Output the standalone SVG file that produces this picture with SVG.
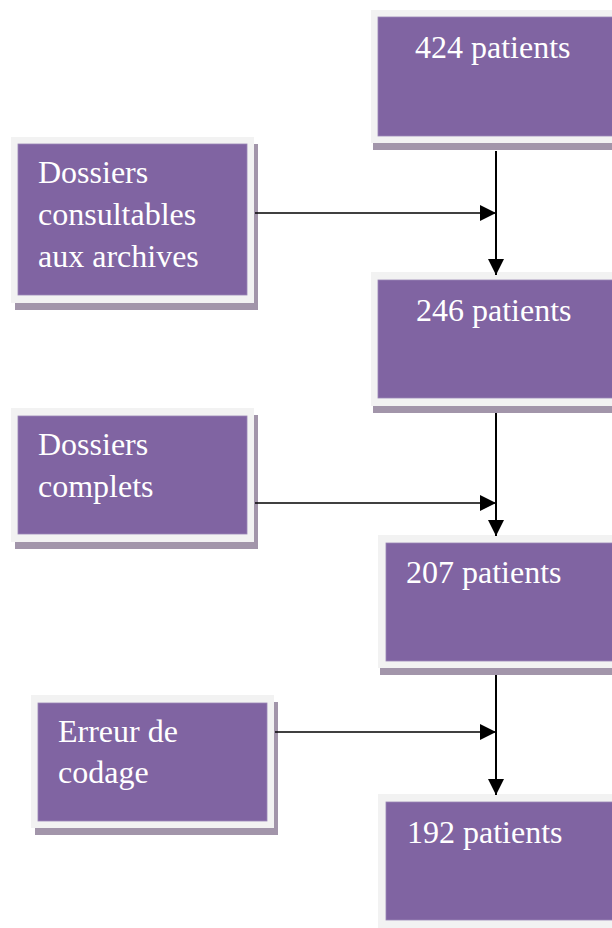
<svg xmlns="http://www.w3.org/2000/svg" width="612" height="928" viewBox="0 0 612 928">
<style>
.shadow{fill:#A295AA}
.frame{fill:#F2F2F2}
.box{fill:#8064A2;stroke:#9A86B6;stroke-width:0.8}
.lbl{font-family:'Liberation Serif',serif;font-size:32px;fill:#FFFFFF}
.conn{stroke:#000000;fill:none}
</style>
<defs>
<marker id="ah" markerUnits="userSpaceOnUse" markerWidth="16" markerHeight="16" refX="16" refY="8" orient="auto">
<path d="M0,0 L16,8 L0,16 z" fill="#000000"/>
</marker>
</defs>
<rect width="612" height="928" fill="#FFFFFF"/>

<g id="n424">
<rect class="shadow" x="373" y="17" width="245" height="133"/>
<rect class="frame" x="371" y="10" width="245" height="133"/>
<rect class="box" x="378" y="17" width="240" height="119"/>
<text class="lbl" x="415" y="58">424 patients</text>
</g>

<g id="nConsultables">
<rect class="shadow" x="15" y="144" width="243" height="166"/>
<rect class="frame" x="11" y="137" width="243" height="166"/>
<rect class="box" x="18" y="144" width="229" height="151"/>
<text class="lbl" x="38" y="183">Dossiers</text>
<text class="lbl" x="38" y="225">consultables</text>
<text class="lbl" x="38" y="267">aux archives</text>
</g>

<g id="n246">
<rect class="shadow" x="373" y="279" width="245" height="134"/>
<rect class="frame" x="371" y="272" width="245" height="134"/>
<rect class="box" x="378" y="280" width="240" height="118"/>
<text class="lbl" x="416" y="321">246 patients</text>
</g>

<g id="nComplets">
<rect class="shadow" x="15" y="415" width="243" height="134"/>
<rect class="frame" x="11" y="408" width="243" height="134"/>
<rect class="box" x="18" y="416" width="229" height="118"/>
<text class="lbl" x="38" y="455">Dossiers</text>
<text class="lbl" x="38" y="497">complets</text>
</g>

<g id="n207">
<rect class="shadow" x="380" y="542" width="240" height="133"/>
<rect class="frame" x="378" y="535" width="240" height="133"/>
<rect class="box" x="386" y="543" width="234" height="118"/>
<text class="lbl" x="406" y="583">207 patients</text>
</g>

<g id="nErreur">
<rect class="shadow" x="35" y="702" width="243" height="133"/>
<rect class="frame" x="31" y="695" width="243" height="133"/>
<rect class="box" x="38" y="703" width="229" height="118"/>
<text class="lbl" x="58" y="742">Erreur de</text>
<text class="lbl" x="58" y="783">codage</text>
</g>

<g id="n192">
<rect class="frame" x="378" y="794" width="240" height="140"/>
<rect class="box" x="386" y="802" width="234" height="118"/>
<text class="lbl" x="407" y="843">192 patients</text>
</g>

<g id="connectors">
<line class="conn" x1="496" y1="151" x2="496" y2="275" stroke-width="2" marker-end="url(#ah)"/>
<line class="conn" x1="255" y1="213" x2="496" y2="213" stroke-width="1.6" marker-end="url(#ah)"/>
<line class="conn" x1="496" y1="413" x2="496" y2="536" stroke-width="2" marker-end="url(#ah)"/>
<line class="conn" x1="255" y1="503" x2="496" y2="503" stroke-width="1.6" marker-end="url(#ah)"/>
<line class="conn" x1="496" y1="675" x2="496" y2="795" stroke-width="2" marker-end="url(#ah)"/>
<line class="conn" x1="275" y1="732" x2="496" y2="732" stroke-width="1.6" marker-end="url(#ah)"/>
</g>
</svg>
